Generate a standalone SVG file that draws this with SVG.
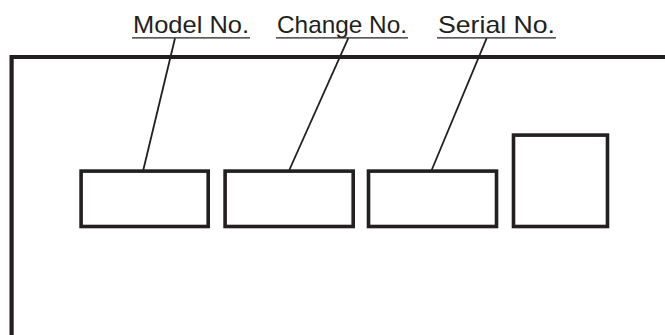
<svg xmlns="http://www.w3.org/2000/svg" width="665" height="335" viewBox="0 0 665 335">
<style>
.lbl{font-family:"Liberation Sans",Arial,Helvetica,sans-serif;font-size:24px;fill:#231f20}
.ul{stroke:#231f20;stroke-width:1.2;fill:none}
.box{fill:#fff;stroke:#231f20;stroke-width:3.6}
.lead{stroke:#231f20;stroke-width:1.8;fill:none}
</style>
<rect width="665" height="335" fill="#fff"/>
<path d="M11.6 335 V57 H665" fill="none" stroke="#231f20" stroke-width="4.2"/>
<g id="label-model">
<text class="lbl" x="133" y="33.2" textLength="116" lengthAdjust="spacingAndGlyphs">Model No.</text>
<line class="ul" x1="132" y1="37.8" x2="250" y2="37.8"/>
</g>
<g id="label-change">
<text class="lbl" x="277" y="33.2" textLength="130" lengthAdjust="spacingAndGlyphs">Change No.</text>
<line class="ul" x1="276" y1="37.8" x2="408" y2="37.8"/>
</g>
<g id="label-serial">
<text class="lbl" x="438" y="33.2" textLength="117" lengthAdjust="spacingAndGlyphs">Serial No.</text>
<line class="ul" x1="437" y1="37.8" x2="556" y2="37.8"/>
</g>
<g id="connectors">
<line class="lead" x1="175" y1="38.2" x2="143.3" y2="170"/>
<line class="lead" x1="348.3" y1="38.2" x2="289.3" y2="170"/>
<line class="lead" x1="486.7" y1="38.2" x2="431.7" y2="170"/>
</g>
<g id="box-model"><rect class="box" x="81.1" y="171.1" width="127.1" height="55.4"/></g>
<g id="box-change"><rect class="box" x="225.1" y="171.1" width="128.1" height="55.4"/></g>
<g id="box-serial"><rect class="box" x="368.5" y="171.1" width="128" height="55.4"/></g>
<g id="box-square"><rect class="box" x="513.5" y="135.1" width="94" height="91.4"/></g>
</svg>
